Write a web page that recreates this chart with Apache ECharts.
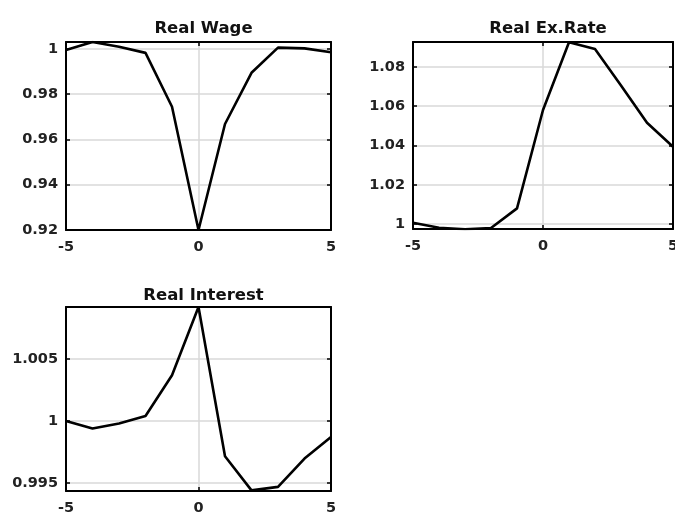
<!DOCTYPE html>
<html>
<head>
<meta charset="utf-8">
<script src="https://cdn.jsdelivr.net/npm/echarts@6/dist/echarts.min.js"></script>
<style>
html,body{margin:0;padding:0;background:#fff;}
#c{width:675px;height:518px;}
</style>
</head>
<body>
<div id="c"></div>
<script>
// ---- data ----
const xVals = [-5, -4, -3, -2, -1, 0, 1, 2, 3, 4, 5];
const xTicks = [-5, 0, 5];
const titles = ['Real Wage', 'Real Ex.Rate', 'Real Interest'];
const wage = [0.9995, 1.0030, 1.0009, 0.9982, 0.9744, 0.9200, 0.9668, 0.9894, 1.0005, 1.0002, 0.9985];
const exRate = [1.0007, 0.9981, 0.9974, 0.9980, 1.0080, 1.0580, 1.0925, 1.0890, 1.0705, 1.0515, 1.0393];
const interest = [1.0000, 0.99939, 0.9998, 1.0004, 1.00369, 1.0092, 0.99715, 0.9944, 0.99468, 0.99697, 0.99871];
const wageTicks = [0.92, 0.94, 0.96, 0.98, 1];
const exTicks = [1, 1.02, 1.04, 1.06, 1.08];
const intTicks = [0.995, 1, 1.005];
const wageRange = [0.92, 1.003];
const exRange = [0.9975, 1.0926];
const intRange = [0.99435, 1.0092];

// ---- layout ----
const grids = [
  {left: 66, top: 42, width: 265, height: 188},
  {left: 413, top: 42, width: 260, height: 187},
  {left: 66, top: 307, width: 265, height: 184}
];
const titleTops = [15, 15, 282];
const seriesData = [wage, exRate, interest];
const yTicks = [wageTicks, exTicks, intTicks];
const yRanges = [wageRange, exRange, intRange];

const FONT = 'DejaVu Sans';
const lineAxis = {show: true, onZero: false, lineStyle: {color: '#000', width: 2}};
const tickStyle = {show: true, inside: true, length: 4, lineStyle: {color: '#000', width: 1.5}};
const labelStyle = {fontFamily: FONT, fontSize: 14.5, fontWeight: 'bold', color: '#222'};
const xAxes = [], yAxes = [], series = [], titleArr = [];

grids.forEach((g, i) => {
  titleArr.push({
    text: titles[i],
    left: g.left + g.width / 2,
    top: titleTops[i],
    textAlign: 'center',
    textStyle: {fontFamily: FONT, fontSize: 16.5, fontWeight: 'bold', color: '#111'}
  });
  xAxes.push({
    type: 'value', gridIndex: i, position: 'bottom', min: -5, max: 5, interval: 5,
    axisLine: lineAxis,
    axisTick: tickStyle,
    axisLabel: Object.assign({show: true, margin: 10, customValues: xTicks}, labelStyle),
    splitLine: {show: true, lineStyle: {color: '#d8d8d8', width: 1.5}}
  });
  xAxes.push({
    type: 'value', gridIndex: i, position: 'top', min: -5, max: 5, interval: 5,
    axisLine: lineAxis,
    axisTick: tickStyle,
    axisLabel: {show: false},
    splitLine: {show: false}
  });
  const [mn, mx] = yRanges[i];
  yAxes.push({
    type: 'value', gridIndex: i, position: 'left', min: mn, max: mx,
    axisLine: lineAxis,
    axisTick: Object.assign({customValues: yTicks[i]}, tickStyle),
    axisLabel: Object.assign({show: true, margin: 8, customValues: yTicks[i]}, labelStyle),
    splitLine: {show: true, lineStyle: {color: '#d8d8d8', width: 1.5}}
  });
  yAxes.push({
    type: 'value', gridIndex: i, position: 'right', min: mn, max: mx,
    axisLine: lineAxis,
    axisTick: Object.assign({customValues: yTicks[i]}, tickStyle),
    axisLabel: {show: false},
    splitLine: {show: false}
  });
  series.push({
    type: 'line', xAxisIndex: i * 2, yAxisIndex: i * 2,
    data: xVals.map((x, k) => [x, seriesData[i][k]]),
    showSymbol: false, symbol: 'none',
    lineStyle: {color: '#000', width: 2.6},
    animation: false
  });
});

const chart = echarts.init(document.getElementById('c'), null, {renderer: 'canvas'});
chart.setOption({
  backgroundColor: '#fff',
  animation: false,
  title: titleArr,
  grid: grids.map(g => Object.assign({containLabel: false, outerBoundsMode: 'none'}, g)),
  xAxis: xAxes,
  yAxis: yAxes,
  series: series
});
</script>
</body>
</html>
